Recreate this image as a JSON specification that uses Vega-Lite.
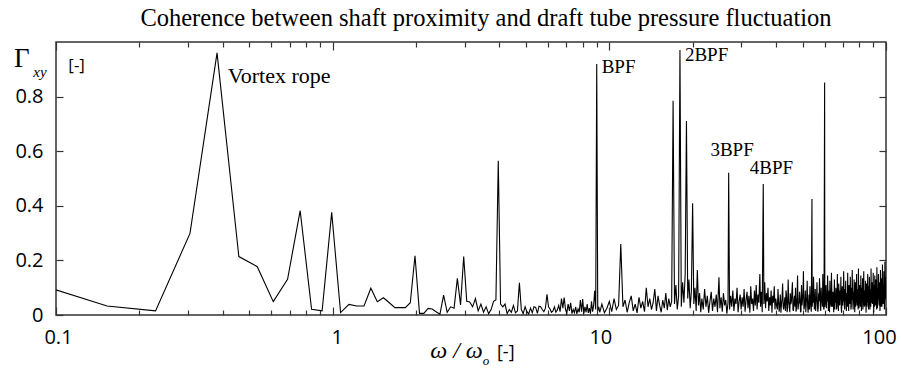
{
  "$schema": "https://vega.github.io/schema/vega-lite/v6.json",
  "width": 830,
  "height": 273,
  "autosize": {"type": "none"},
  "padding": {"left": 56, "top": 42, "right": 15, "bottom": 54},
  "title": {
    "text": "Coherence between shaft proximity and draft tube pressure fluctuation",
    "font": "Liberation Serif",
    "fontSize": 24.5,
    "fontWeight": "normal",
    "color": "#000",
    "anchor": "middle",
    "frame": "group",
    "offset": 10,
    "dx": 15
  },
  "config": {
    "view": {"stroke": "#333", "strokeWidth": 1.5},
    "axis": {
      "domain": false,
      "grid": false,
      "tickColor": "#333",
      "tickWidth": 1.2,
      "labelFont": "Open Sans",
      "labelFontSize": 20,
      "labelColor": "#000",
      "labelFlush": false
    }
  },
  "layer": [
    {
      "data": {
        "values": [
          {"w": 0.076, "g": 0.13}, {"w": 0.153, "g": 0.033}, {"w": 0.229, "g": 0.015}, {"w": 0.305, "g": 0.299},
          {"w": 0.382, "g": 0.96}, {"w": 0.458, "g": 0.214}, {"w": 0.534, "g": 0.177}, {"w": 0.61, "g": 0.049},
          {"w": 0.687, "g": 0.131}, {"w": 0.763, "g": 0.382}, {"w": 0.839, "g": 0.021}, {"w": 0.916, "g": 0.015},
          {"w": 0.992, "g": 0.376}, {"w": 1.068, "g": 0.009}, {"w": 1.145, "g": 0.039}, {"w": 1.221, "g": 0.033},
          {"w": 1.298, "g": 0.033}, {"w": 1.374, "g": 0.098}, {"w": 1.45, "g": 0.049}, {"w": 1.526, "g": 0.063},
          {"w": 1.602, "g": 0.045}, {"w": 1.679, "g": 0.027}, {"w": 1.755, "g": 0.027}, {"w": 1.831, "g": 0.027},
          {"w": 1.908, "g": 0.045}, {"w": 1.984, "g": 0.217}, {"w": 2.06, "g": 0.006}, {"w": 2.136, "g": 0.006},
          {"w": 2.213, "g": 0.024}, {"w": 2.289, "g": 0.022}, {"w": 2.365, "g": 0.012}, {"w": 2.442, "g": 0.003},
          {"w": 2.518, "g": 0.073}, {"w": 2.594, "g": 0.01}, {"w": 2.67, "g": 0.03}, {"w": 2.747, "g": 0.025},
          {"w": 2.823, "g": 0.134}, {"w": 2.899, "g": 0.037}, {"w": 2.976, "g": 0.214}, {"w": 3.052, "g": 0.05},
          {"w": 3.128, "g": 0.048}, {"w": 3.205, "g": 0.03}, {"w": 3.281, "g": 0.06}, {"w": 3.357, "g": 0.015},
          {"w": 3.434, "g": 0.04}, {"w": 3.51, "g": 0.01}, {"w": 3.586, "g": 0.03}, {"w": 3.662, "g": 0.005},
          {"w": 3.739, "g": 0.02}, {"w": 3.815, "g": 0.05}, {"w": 3.891, "g": 0.055}, {"w": 3.968, "g": 0.565},
          {"w": 4.044, "g": 0.04}, {"w": 4.12, "g": 0.03}, {"w": 4.197, "g": 0.04}, {"w": 4.273, "g": 0.005},
          {"w": 4.349, "g": 0.02}, {"w": 4.426, "g": 0.01}, {"w": 4.502, "g": 0.035}, {"w": 4.578, "g": 0.008},
          {"w": 4.654, "g": 0.015}, {"w": 4.731, "g": 0.118}, {"w": 4.807, "g": 0.02}, {"w": 4.883, "g": 0.005},
          {"w": 4.96, "g": 0.03}, {"w": 5.036, "g": 0.012}, {"w": 5.112, "g": 0.004}, {"w": 5.189, "g": 0.025},
          {"w": 5.265, "g": 0.008}, {"w": 5.341, "g": 0.03}, {"w": 5.418, "g": 0.028}, {"w": 5.494, "g": 0.006},
          {"w": 5.57, "g": 0.032}, {"w": 5.646, "g": 0.03}, {"w": 5.723, "g": 0.02}, {"w": 5.799, "g": 0.012},
          {"w": 5.875, "g": 0.025}, {"w": 5.952, "g": 0.076}, {"w": 6.028, "g": 0.03}, {"w": 6.104, "g": 0.022},
          {"w": 6.181, "g": 0.01}, {"w": 6.257, "g": 0.015}, {"w": 6.333, "g": 0.03}, {"w": 6.41, "g": 0.01},
          {"w": 6.486, "g": 0.018}, {"w": 6.562, "g": 0.035}, {"w": 6.638, "g": 0.012}, {"w": 6.715, "g": 0.06},
          {"w": 6.791, "g": 0.025}, {"w": 6.867, "g": 0.064}, {"w": 6.944, "g": 0.02}, {"w": 7.02, "g": 0.008},
          {"w": 7.096, "g": 0.04}, {"w": 7.173, "g": 0.015}, {"w": 7.249, "g": 0.045}, {"w": 7.325, "g": 0.005},
          {"w": 7.402, "g": 0.02}, {"w": 7.478, "g": 0.008}, {"w": 7.554, "g": 0.03}, {"w": 7.63, "g": 0.004},
          {"w": 7.707, "g": 0.022}, {"w": 7.783, "g": 0.01}, {"w": 7.859, "g": 0.055}, {"w": 7.936, "g": 0.012},
          {"w": 8.012, "g": 0.058}, {"w": 8.088, "g": 0.006}, {"w": 8.165, "g": 0.03}, {"w": 8.241, "g": 0.01},
          {"w": 8.317, "g": 0.04}, {"w": 8.394, "g": 0.008}, {"w": 8.47, "g": 0.025}, {"w": 8.546, "g": 0.005},
          {"w": 8.622, "g": 0.05}, {"w": 8.699, "g": 0.012}, {"w": 8.775, "g": 0.035}, {"w": 8.851, "g": 0.089},
          {"w": 8.928, "g": 0.02}, {"w": 9.004, "g": 0.919}, {"w": 9.08, "g": 0.015}, {"w": 9.157, "g": 0.03},
          {"w": 9.233, "g": 0.01}, {"w": 9.4, "g": 0.04}, {"w": 9.6, "g": 0.008}, {"w": 9.8, "g": 0.025},
          {"w": 10.0, "g": 0.05}, {"w": 10.2, "g": 0.012}, {"w": 10.4, "g": 0.06}, {"w": 10.6, "g": 0.02},
          {"w": 10.8, "g": 0.035}, {"w": 11.0, "g": 0.26}, {"w": 11.2, "g": 0.03}, {"w": 11.4, "g": 0.055},
          {"w": 11.6, "g": 0.01}, {"w": 11.8, "g": 0.045}, {"w": 12.0, "g": 0.07}, {"w": 12.2, "g": 0.015},
          {"w": 12.4, "g": 0.04}, {"w": 12.6, "g": 0.008}, {"w": 12.8, "g": 0.065}, {"w": 13.0, "g": 0.025},
          {"w": 13.2, "g": 0.05}, {"w": 13.4, "g": 0.012}, {"w": 13.6, "g": 0.1}, {"w": 13.8, "g": 0.03},
          {"w": 14.0, "g": 0.06}, {"w": 14.2, "g": 0.02}, {"w": 14.4, "g": 0.045}, {"w": 14.6, "g": 0.095},
          {"w": 14.8, "g": 0.015}, {"w": 15.0, "g": 0.07}, {"w": 15.2, "g": 0.035}, {"w": 15.4, "g": 0.01},
          {"w": 15.6, "g": 0.055}, {"w": 15.8, "g": 0.025}, {"w": 16.0, "g": 0.08}, {"w": 16.2, "g": 0.018},
          {"w": 16.4, "g": 0.06}, {"w": 16.6, "g": 0.03}, {"w": 16.8, "g": 0.05}, {"w": 17.0, "g": 0.785},
          {"w": 17.2, "g": 0.04}, {"w": 17.4, "g": 0.11}, {"w": 17.6, "g": 0.02}, {"w": 17.8, "g": 0.07},
          {"w": 18.0, "g": 0.971}, {"w": 18.2, "g": 0.03}, {"w": 18.4, "g": 0.12}, {"w": 18.6, "g": 0.045},
          {"w": 18.8, "g": 0.15}, {"w": 19.0, "g": 0.711}, {"w": 19.2, "g": 0.06}, {"w": 19.4, "g": 0.13},
          {"w": 19.6, "g": 0.025}, {"w": 19.8, "g": 0.09}, {"w": 20.0, "g": 0.409}, {"w": 20.2, "g": 0.04},
          {"w": 20.4, "g": 0.1}, {"w": 20.6, "g": 0.015}, {"w": 20.8, "g": 0.165}, {"w": 21.0, "g": 0.035},
          {"w": 21.2, "g": 0.08}, {"w": 21.4, "g": 0.01}, {"w": 21.6, "g": 0.06}, {"w": 21.85, "g": 0.02},
          {"w": 22.1, "g": 0.095}, {"w": 22.35, "g": 0.03}, {"w": 22.6, "g": 0.07}, {"w": 22.85, "g": 0.008},
          {"w": 23.1, "g": 0.05}, {"w": 23.35, "g": 0.085}, {"w": 23.6, "g": 0.015}, {"w": 23.85, "g": 0.06},
          {"w": 24.1, "g": 0.03}, {"w": 24.35, "g": 0.075}, {"w": 24.6, "g": 0.01}, {"w": 24.9, "g": 0.138},
          {"w": 25.1, "g": 0.025}, {"w": 25.35, "g": 0.065}, {"w": 25.6, "g": 0.012}, {"w": 25.85, "g": 0.08},
          {"w": 26.1, "g": 0.035}, {"w": 26.35, "g": 0.055}, {"w": 26.6, "g": 0.005}, {"w": 26.85, "g": 0.045},
          {"w": 27.0, "g": 0.521}, {"w": 27.2, "g": 0.02}, {"w": 27.45, "g": 0.07}, {"w": 27.7, "g": 0.03},
          {"w": 27.95, "g": 0.09}, {"w": 28.2, "g": 0.015}, {"w": 28.45, "g": 0.06}, {"w": 28.7, "g": 0.04},
          {"w": 28.95, "g": 0.1}, {"w": 29.2, "g": 0.01}, {"w": 29.45, "g": 0.05}, {"w": 29.7, "g": 0.075},
          {"w": 29.95, "g": 0.02}, {"w": 30.2, "g": 0.065}, {"w": 30.45, "g": 0.03}, {"w": 30.7, "g": 0.095},
          {"w": 30.95, "g": 0.012}, {"w": 31.2, "g": 0.055}, {"w": 31.45, "g": 0.085}, {"w": 31.7, "g": 0.025},
          {"w": 31.95, "g": 0.07}, {"w": 32.2, "g": 0.008}, {"w": 32.45, "g": 0.105}, {"w": 32.7, "g": 0.04},
          {"w": 32.95, "g": 0.06}, {"w": 33.2, "g": 0.015}, {"w": 33.45, "g": 0.09}, {"w": 33.7, "g": 0.035},
          {"w": 33.95, "g": 0.11}, {"w": 34.2, "g": 0.02}, {"w": 34.45, "g": 0.075}, {"w": 34.7, "g": 0.045},
          {"w": 35.0, "g": 0.15}, {"w": 35.2, "g": 0.03}, {"w": 35.45, "g": 0.085}, {"w": 35.7, "g": 0.01},
          {"w": 36.0, "g": 0.48}, {"w": 36.2, "g": 0.04}, {"w": 36.45, "g": 0.12}, {"w": 36.7, "g": 0.025},
          {"w": 36.95, "g": 0.08}, {"w": 37.2, "g": 0.05}, {"w": 37.45, "g": 0.1}, {"w": 37.7, "g": 0.015},
          {"w": 37.95, "g": 0.065}, {"w": 38.2, "g": 0.035}, {"w": 38.45, "g": 0.09}, {"w": 38.7, "g": 0.008},
          {"w": 38.95, "g": 0.07}, {"w": 39.2, "g": 0.045}, {"w": 39.45, "g": 0.105}, {"w": 39.7, "g": 0.02},
          {"w": 39.95, "g": 0.06}, {"w": 40.3, "g": 0.03}, {"w": 40.5, "g": 0.02}, {"w": 40.7, "g": 0.095},
          {"w": 40.9, "g": 0.05}, {"w": 41.1, "g": 0.012}, {"w": 41.3, "g": 0.035}, {"w": 41.5, "g": 0.075},
          {"w": 41.7, "g": 0.008}, {"w": 41.9, "g": 0.04}, {"w": 42.1, "g": 0.06}, {"w": 42.3, "g": 0.115},
          {"w": 42.5, "g": 0.03}, {"w": 42.7, "g": 0.02}, {"w": 42.9, "g": 0.045}, {"w": 43.1, "g": 0.065},
          {"w": 43.3, "g": 0.015}, {"w": 43.5, "g": 0.09}, {"w": 43.7, "g": 0.07}, {"w": 43.9, "g": 0.01},
          {"w": 44.1, "g": 0.025}, {"w": 44.3, "g": 0.13}, {"w": 44.5, "g": 0.05}, {"w": 44.7, "g": 0.035},
          {"w": 44.9, "g": 0.01}, {"w": 45.1, "g": 0.08}, {"w": 45.3, "g": 0.04}, {"w": 45.5, "g": 0.05},
          {"w": 45.7, "g": 0.085}, {"w": 45.9, "g": 0.12}, {"w": 46.1, "g": 0.02}, {"w": 46.3, "g": 0.015},
          {"w": 46.5, "g": 0.055}, {"w": 46.7, "g": 0.07}, {"w": 46.9, "g": 0.03}, {"w": 47.1, "g": 0.1},
          {"w": 47.3, "g": 0.012}, {"w": 47.5, "g": 0.025}, {"w": 47.7, "g": 0.065}, {"w": 47.9, "g": 0.145},
          {"w": 48.1, "g": 0.02}, {"w": 48.3, "g": 0.04}, {"w": 48.5, "g": 0.045}, {"w": 48.7, "g": 0.085},
          {"w": 48.9, "g": 0.06}, {"w": 49.1, "g": 0.01}, {"w": 49.3, "g": 0.015}, {"w": 49.5, "g": 0.11},
          {"w": 49.7, "g": 0.035}, {"w": 49.9, "g": 0.055}, {"w": 50.1, "g": 0.075}, {"w": 50.3, "g": 0.16},
          {"w": 50.5, "g": 0.02}, {"w": 50.7, "g": 0.03}, {"w": 50.9, "g": 0.05}, {"w": 51.1, "g": 0.09},
          {"w": 51.3, "g": 0.01}, {"w": 51.5, "g": 0.045}, {"w": 51.7, "g": 0.065}, {"w": 51.9, "g": 0.125},
          {"w": 52.1, "g": 0.03}, {"w": 52.3, "g": 0.008}, {"w": 52.5, "g": 0.04}, {"w": 52.7, "g": 0.075},
          {"w": 52.9, "g": 0.02}, {"w": 53.1, "g": 0.105}, {"w": 53.3, "g": 0.055}, {"w": 53.5, "g": 0.03},
          {"w": 53.7, "g": 0.012}, {"w": 54.0, "g": 0.425}, {"w": 54.1, "g": 0.03}, {"w": 54.3, "g": 0.06},
          {"w": 54.5, "g": 0.045}, {"w": 54.7, "g": 0.14}, {"w": 54.9, "g": 0.075}, {"w": 55.1, "g": 0.02},
          {"w": 55.3, "g": 0.035}, {"w": 55.5, "g": 0.095}, {"w": 55.7, "g": 0.015}, {"w": 55.9, "g": 0.05},
          {"w": 56.1, "g": 0.06}, {"w": 56.3, "g": 0.12}, {"w": 56.5, "g": 0.04}, {"w": 56.7, "g": 0.012},
          {"w": 56.9, "g": 0.025}, {"w": 57.1, "g": 0.08}, {"w": 57.3, "g": 0.05}, {"w": 57.5, "g": 0.135},
          {"w": 57.7, "g": 0.09}, {"w": 57.9, "g": 0.035}, {"w": 58.1, "g": 0.015}, {"w": 58.3, "g": 0.1},
          {"w": 58.5, "g": 0.045}, {"w": 58.7, "g": 0.06}, {"w": 58.9, "g": 0.03}, {"w": 59.1, "g": 0.15},
          {"w": 59.3, "g": 0.065}, {"w": 59.5, "g": 0.025}, {"w": 59.7, "g": 0.02}, {"w": 60.0, "g": 0.852},
          {"w": 60.1, "g": 0.03}, {"w": 60.3, "g": 0.04}, {"w": 60.5, "g": 0.07}, {"w": 60.7, "g": 0.11},
          {"w": 60.9, "g": 0.025}, {"w": 61.1, "g": 0.07}, {"w": 61.3, "g": 0.05}, {"w": 61.5, "g": 0.145},
          {"w": 61.7, "g": 0.08}, {"w": 61.9, "g": 0.015}, {"w": 62.1, "g": 0.035}, {"w": 62.3, "g": 0.09},
          {"w": 62.5, "g": 0.01}, {"w": 62.7, "g": 0.125}, {"w": 62.9, "g": 0.06}, {"w": 63.1, "g": 0.045},
          {"w": 63.3, "g": 0.03}, {"w": 63.5, "g": 0.155}, {"w": 63.7, "g": 0.09}, {"w": 63.9, "g": 0.03},
          {"w": 64.1, "g": 0.04}, {"w": 64.3, "g": 0.085}, {"w": 64.5, "g": 0.055}, {"w": 64.7, "g": 0.01},
          {"w": 64.9, "g": 0.07}, {"w": 65.1, "g": 0.13}, {"w": 65.3, "g": 0.02}, {"w": 65.5, "g": 0.06},
          {"w": 65.7, "g": 0.045}, {"w": 65.9, "g": 0.1}, {"w": 66.1, "g": 0.08}, {"w": 66.3, "g": 0.02},
          {"w": 66.5, "g": 0.03}, {"w": 66.7, "g": 0.15}, {"w": 66.9, "g": 0.06}, {"w": 67.1, "g": 0.05},
          {"w": 67.3, "g": 0.015}, {"w": 67.5, "g": 0.115}, {"w": 67.7, "g": 0.075}, {"w": 67.9, "g": 0.035},
          {"w": 68.1, "g": 0.04}, {"w": 68.3, "g": 0.09}, {"w": 68.5, "g": 0.055}, {"w": 68.7, "g": 0.14},
          {"w": 68.9, "g": 0.025}, {"w": 69.1, "g": 0.008}, {"w": 69.3, "g": 0.07}, {"w": 69.5, "g": 0.105},
          {"w": 69.7, "g": 0.035}, {"w": 69.9, "g": 0.065}, {"w": 70.1, "g": 0.05}, {"w": 70.3, "g": 0.16},
          {"w": 70.5, "g": 0.09}, {"w": 70.7, "g": 0.03}, {"w": 70.9, "g": 0.02}, {"w": 71.1, "g": 0.095},
          {"w": 71.3, "g": 0.06}, {"w": 71.5, "g": 0.125}, {"w": 71.7, "g": 0.04}, {"w": 71.9, "g": 0.015},
          {"w": 72.1, "g": 0.075}, {"w": 72.3, "g": 0.08}, {"w": 72.5, "g": 0.03}, {"w": 72.7, "g": 0.155},
          {"w": 72.9, "g": 0.05}, {"w": 73.1, "g": 0.045}, {"w": 73.3, "g": 0.015}, {"w": 73.5, "g": 0.11},
          {"w": 73.7, "g": 0.085}, {"w": 73.9, "g": 0.07}, {"w": 74.1, "g": 0.04}, {"w": 74.3, "g": 0.14},
          {"w": 74.5, "g": 0.065}, {"w": 74.7, "g": 0.02}, {"w": 74.9, "g": 0.03}, {"w": 75.1, "g": 0.1},
          {"w": 75.3, "g": 0.055}, {"w": 75.5, "g": 0.165}, {"w": 75.7, "g": 0.08}, {"w": 75.9, "g": 0.04},
          {"w": 76.1, "g": 0.02}, {"w": 76.3, "g": 0.085}, {"w": 76.5, "g": 0.06}, {"w": 76.7, "g": 0.13},
          {"w": 76.9, "g": 0.045}, {"w": 77.1, "g": 0.01}, {"w": 77.3, "g": 0.07}, {"w": 77.5, "g": 0.12},
          {"w": 77.7, "g": 0.03}, {"w": 77.9, "g": 0.06}, {"w": 78.1, "g": 0.095}, {"w": 78.3, "g": 0.15},
          {"w": 78.5, "g": 0.05}, {"w": 78.7, "g": 0.035}, {"w": 78.9, "g": 0.065}, {"w": 79.1, "g": 0.095},
          {"w": 79.3, "g": 0.02}, {"w": 79.5, "g": 0.17}, {"w": 79.7, "g": 0.075}, {"w": 79.9, "g": 0.025},
          {"w": 80.1, "g": 0.04}, {"w": 80.3, "g": 0.11}, {"w": 80.5, "g": 0.055}, {"w": 80.7, "g": 0.075},
          {"w": 80.9, "g": 0.03}, {"w": 81.1, "g": 0.145}, {"w": 81.3, "g": 0.085}, {"w": 81.5, "g": 0.015},
          {"w": 81.7, "g": 0.05}, {"w": 81.9, "g": 0.1}, {"w": 82.1, "g": 0.065}, {"w": 82.3, "g": 0.135},
          {"w": 82.5, "g": 0.02}, {"w": 82.7, "g": 0.05}, {"w": 82.9, "g": 0.09}, {"w": 83.1, "g": 0.16},
          {"w": 83.3, "g": 0.045}, {"w": 83.5, "g": 0.03}, {"w": 83.7, "g": 0.06}, {"w": 83.9, "g": 0.09},
          {"w": 84.1, "g": 0.035}, {"w": 84.3, "g": 0.125}, {"w": 84.5, "g": 0.075}, {"w": 84.7, "g": 0.008},
          {"w": 84.9, "g": 0.05}, {"w": 85.1, "g": 0.115}, {"w": 85.3, "g": 0.03}, {"w": 85.5, "g": 0.065},
          {"w": 85.7, "g": 0.095}, {"w": 85.9, "g": 0.15}, {"w": 86.1, "g": 0.06}, {"w": 86.3, "g": 0.04},
          {"w": 86.5, "g": 0.02}, {"w": 86.7, "g": 0.105}, {"w": 86.9, "g": 0.07}, {"w": 87.1, "g": 0.14},
          {"w": 87.3, "g": 0.045}, {"w": 87.5, "g": 0.02}, {"w": 87.7, "g": 0.085}, {"w": 87.9, "g": 0.095},
          {"w": 88.1, "g": 0.03}, {"w": 88.3, "g": 0.17}, {"w": 88.5, "g": 0.06}, {"w": 88.7, "g": 0.045},
          {"w": 88.9, "g": 0.1}, {"w": 89.1, "g": 0.12}, {"w": 89.3, "g": 0.04}, {"w": 89.5, "g": 0.08},
          {"w": 89.7, "g": 0.065}, {"w": 89.9, "g": 0.155}, {"w": 90.1, "g": 0.05}, {"w": 90.3, "g": 0.01},
          {"w": 90.5, "g": 0.085}, {"w": 90.7, "g": 0.11}, {"w": 90.9, "g": 0.03}, {"w": 91.1, "g": 0.145},
          {"w": 91.3, "g": 0.07}, {"w": 91.5, "g": 0.035}, {"w": 91.7, "g": 0.055}, {"w": 91.9, "g": 0.13},
          {"w": 92.1, "g": 0.1}, {"w": 92.3, "g": 0.06}, {"w": 92.5, "g": 0.02}, {"w": 92.7, "g": 0.175},
          {"w": 92.9, "g": 0.075}, {"w": 93.1, "g": 0.025}, {"w": 93.3, "g": 0.05}, {"w": 93.5, "g": 0.1},
          {"w": 93.7, "g": 0.065}, {"w": 93.9, "g": 0.15}, {"w": 94.1, "g": 0.09}, {"w": 94.3, "g": 0.05},
          {"w": 94.5, "g": 0.035}, {"w": 94.7, "g": 0.12}, {"w": 94.9, "g": 0.07}, {"w": 95.1, "g": 0.015},
          {"w": 95.3, "g": 0.05}, {"w": 95.5, "g": 0.165}, {"w": 95.7, "g": 0.11}, {"w": 95.9, "g": 0.07},
          {"w": 96.1, "g": 0.03}, {"w": 96.3, "g": 0.135}, {"w": 96.5, "g": 0.08}, {"w": 96.7, "g": 0.03},
          {"w": 96.9, "g": 0.06}, {"w": 97.1, "g": 0.185}, {"w": 97.3, "g": 0.09}, {"w": 97.5, "g": 0.055},
          {"w": 97.7, "g": 0.04}, {"w": 97.9, "g": 0.11}, {"w": 98.1, "g": 0.075}, {"w": 98.3, "g": 0.16},
          {"w": 98.5, "g": 0.1}, {"w": 98.7, "g": 0.02}, {"w": 98.9, "g": 0.05}, {"w": 99.1, "g": 0.195},
          {"w": 99.3, "g": 0.085}, {"w": 99.5, "g": 0.08}, {"w": 99.7, "g": 0.06}, {"w": 99.9, "g": 0.14},
          {"w": 100.1, "g": 0.1}, {"w": 100.3, "g": 0.05}
        ]
      },
      "mark": {"type": "line", "color": "#000", "strokeWidth": 1.1, "clip": true},
      "encoding": {
        "x": {
          "field": "w",
          "type": "quantitative",
          "scale": {"type": "log", "domain": [0.1, 100], "nice": false},
          "axis": {
            "orient": "bottom",
            "values": [0.1, 1, 10, 100],
            "tickSize": -8,
            "labelPadding": 20,
            "labelOffset": {
              "condition": [
                {"test": "datum.value < 0.5", "value": 2},
                {"test": "datum.value == 1", "value": 4},
                {"test": "datum.value == 10", "value": -9}
              ],
              "value": -7
            },
            "labelExpr": "datum.value < 1 ? '0.1' : format(datum.value, 'd')",
            "title": "ω / ω",
            "titleFont": "Liberation Serif",
            "titleFontStyle": "italic",
            "titleFontWeight": "normal",
            "titleFontSize": 24,
            "titleColor": "#000",
            "titleX": 400,
            "titleY": 42,
            "titleBaseline": "alphabetic",
            "titleAnchor": "middle"
          }
        },
        "y": {
          "field": "g",
          "type": "quantitative",
          "scale": {"domain": [0, 1], "nice": false, "zero": true},
          "axis": {
            "orient": "left",
            "values": [0, 0.2, 0.4, 0.6, 0.8],
            "tickSize": -7,
            "labelPadding": 20,
            "labelExpr": "datum.value == 0 ? '0' : format(datum.value, '.1f')",
            "title": null
          }
        }
      }
    },
    {
      "data": {"values": [{"w": 0.4174, "g": 0.849, "t": "Vortex rope"}]},
      "mark": {"type": "text", "font": "Liberation Serif", "fontSize": 22, "align": "left", "baseline": "alphabetic", "color": "#000"},
      "encoding": {
        "x": {
          "field": "w",
          "type": "quantitative",
          "axis": {"orient": "bottom", "values": [0.2, 0.3, 0.4, 0.5, 0.6, 0.7, 0.8, 0.9, 2, 3, 4, 5, 6, 7, 8, 9, 20, 30, 40, 50, 60, 70, 80, 90], "tickSize": -5, "labels": false, "title": null}
        },
        "y": {
          "field": "g",
          "type": "quantitative",
          "axis": {"orient": "right", "values": [0.2, 0.4, 0.6, 0.8], "tickSize": -7, "labels": false, "title": null}
        },
        "text": {"field": "t"}
      }
    },
    {
      "data": {
        "values": [
          {"w": 9.38, "g": 0.888, "t": "BPF"},
          {"w": 18.76, "g": 0.932, "t": "2BPF"},
          {"w": 23.2, "g": 0.582, "t": "3BPF"},
          {"w": 32.2, "g": 0.516, "t": "4BPF"}
        ]
      },
      "mark": {"type": "text", "font": "Liberation Serif", "fontSize": 19, "align": "left", "baseline": "alphabetic", "color": "#000"},
      "encoding": {
        "x": {
          "field": "w",
          "type": "quantitative",
          "axis": {"orient": "top", "values": [0.1, 1, 10, 100], "tickSize": -8, "labels": false, "title": null}
        },
        "y": {"field": "g", "type": "quantitative", "axis": null},
        "text": {"field": "t"}
      }
    },
    {
      "data": {"values": [{"w": 0.1108, "g": 0.912, "t": "[-]"}]},
      "mark": {"type": "text", "font": "Open Sans", "fontSize": 17, "align": "left", "baseline": "middle", "color": "#000"},
      "encoding": {
        "x": {
          "field": "w",
          "type": "quantitative",
          "axis": {"orient": "top", "values": [0.2, 0.3, 0.4, 0.5, 0.6, 0.7, 0.8, 0.9, 2, 3, 4, 5, 6, 7, 8, 9, 20, 30, 40, 50, 60, 70, 80, 90], "tickSize": -5, "labels": false, "title": null}
        },
        "y": {"field": "g", "type": "quantitative", "axis": null},
        "text": {"field": "t"}
      }
    },
    {
      "data": {"values": [{"w": 0.0705, "g": 0.91, "t": "Γ"}]},
      "mark": {"type": "text", "font": "Liberation Serif", "fontSize": 27, "align": "left", "baseline": "alphabetic", "color": "#000"},
      "encoding": {
        "x": {"field": "w", "type": "quantitative", "axis": null},
        "y": {"field": "g", "type": "quantitative", "axis": null},
        "text": {"field": "t"}
      }
    },
    {
      "data": {"values": [{"w": 0.0828, "g": 0.873, "t": "xy"}]},
      "mark": {"type": "text", "font": "Liberation Serif", "fontStyle": "italic", "fontSize": 15, "align": "left", "baseline": "alphabetic", "color": "#000"},
      "encoding": {
        "x": {"field": "w", "type": "quantitative", "axis": null},
        "y": {"field": "g", "type": "quantitative", "axis": null},
        "text": {"field": "t"}
      }
    },
    {
      "data": {"values": [{"w": 3.49, "g": -0.183, "t": "o"}]},
      "mark": {"type": "text", "font": "Liberation Serif", "fontStyle": "italic", "fontSize": 13, "align": "left", "baseline": "alphabetic", "color": "#000"},
      "encoding": {
        "x": {"field": "w", "type": "quantitative", "axis": null},
        "y": {"field": "g", "type": "quantitative", "axis": null},
        "text": {"field": "t"}
      }
    },
    {
      "data": {"values": [{"w": 3.925, "g": -0.139, "t": "[-]"}]},
      "mark": {"type": "text", "font": "Open Sans", "fontSize": 18, "align": "left", "baseline": "middle", "color": "#000"},
      "encoding": {
        "x": {"field": "w", "type": "quantitative", "axis": null},
        "y": {"field": "g", "type": "quantitative", "axis": null},
        "text": {"field": "t"}
      }
    }
  ],
  "resolve": {"axis": {"x": "independent", "y": "independent"}}
}
